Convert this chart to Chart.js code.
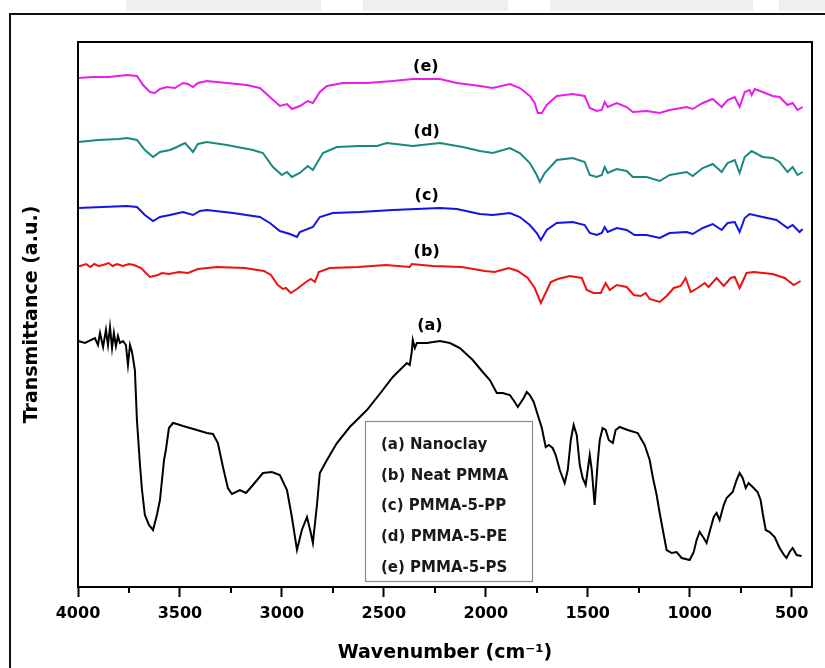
<!DOCTYPE html>
<html>
<head>
<meta charset="utf-8">
<script src="https://cdn.jsdelivr.net/npm/chart.js@4.4.1/dist/chart.umd.min.js"></script>
<style>
  html, body { margin: 0; padding: 0; background: #fff; }
  #wrap { width: 825px; height: 668px; position: relative; }
</style>
</head>
<body>
<div id="wrap"><canvas id="c" width="825" height="668"></canvas></div>
<script>
// ---- Data (wavenumber cm^-1, transmittance a.u. with stacking offsets) ----
const seriesA = [[4000,246],[3966,244],[3917,249],[3902,242],[3892,254],[3877,240],[3863,257],[3853,242],[3843,260],[3833,239],[3824,254],[3814,241],[3804,251],[3794,244],[3779,246],[3765,242],[3755,222],[3745,242],[3735,235],[3721,217],[3711,167],[3696,122],[3686,97],[3672,72],[3652,62],[3632,57],[3613,72],[3598,87],[3578,127],[3569,137],[3554,159],[3534,164],[3515,163],[3485,161],[3451,159],[3417,157],[3368,154],[3338,153],[3314,144],[3289,120],[3265,99],[3245,93],[3225,95],[3206,97],[3176,94],[3142,102],[3093,114],[3049,115],[3010,112],[2975,97],[2951,70],[2926,37],[2902,57],[2877,70],[2858,54],[2848,44],[2828,82],[2814,114],[2779,127],[2730,144],[2667,160],[2583,177],[2505,197],[2456,210],[2387,224],[2373,222],[2363,235],[2358,247],[2348,239],[2338,244],[2289,244],[2225,246],[2176,244],[2127,239],[2064,227],[2015,215],[1980,207],[1946,194],[1917,194],[1882,192],[1858,185],[1843,180],[1814,189],[1799,195],[1784,192],[1765,185],[1745,172],[1725,159],[1706,140],[1691,142],[1672,139],[1657,132],[1637,117],[1613,104],[1598,117],[1583,147],[1569,162],[1554,152],[1539,122],[1525,109],[1510,102],[1490,132],[1480,117],[1466,82],[1451,125],[1441,147],[1427,159],[1412,157],[1397,147],[1377,144],[1363,157],[1343,160],[1304,157],[1255,154],[1221,142],[1196,127],[1181,110],[1162,92],[1147,74],[1127,52],[1113,37],[1088,34],[1064,35],[1039,29],[1000,27],[980,35],[966,47],[951,55],[931,49],[917,44],[897,59],[882,70],[868,74],[853,67],[833,82],[819,89],[789,95],[770,107],[755,114],[740,109],[725,99],[711,104],[691,100],[667,95],[652,87],[642,74],[627,57],[608,55],[583,50],[559,39],[534,31],[525,29],[510,35],[495,39],[475,32],[451,31]];

const seriesB = [[4000,321],[3990,321],[3960,323],[3940,320],[3920,323],[3900,321],[3877,322],[3850,324],[3830,321],[3809,323],[3780,321],[3750,323],[3725,322],[3691,319],[3647,310],[3608,312],[3588,314],[3554,313],[3505,315],[3461,314],[3412,318],[3319,320],[3181,319],[3088,316],[3054,312],[3020,302],[2995,298],[2980,299],[2956,294],[2926,298],[2882,305],[2858,308],[2838,305],[2819,315],[2765,319],[2627,320],[2490,322],[2373,320],[2363,323],[2260,321],[2118,320],[2005,316],[1956,315],[1887,319],[1843,316],[1794,309],[1760,299],[1730,284],[1716,290],[1681,305],[1647,308],[1588,311],[1529,309],[1505,297],[1471,294],[1436,294],[1412,304],[1392,297],[1358,302],[1309,300],[1274,292],[1240,291],[1216,294],[1196,288],[1147,285],[1113,291],[1078,299],[1044,301],[1020,309],[995,295],[961,299],[926,304],[907,300],[868,309],[833,301],[799,309],[779,310],[755,299],[721,314],[686,315],[593,313],[534,309],[490,302],[456,306]];

const seriesC = [[4000,379],[3880,380],[3760,381],[3711,380],[3672,372],[3632,366],[3598,370],[3549,372],[3485,375],[3436,372],[3402,376],[3368,377],[3240,374],[3108,370],[3059,364],[3010,356],[2961,353],[2926,350],[2912,355],[2848,360],[2814,370],[2750,374],[2618,375],[2456,377],[2225,379],[2142,378],[2029,373],[1966,372],[1882,374],[1833,370],[1784,362],[1750,354],[1730,347],[1701,357],[1652,364],[1574,365],[1515,362],[1490,354],[1456,352],[1431,354],[1417,360],[1402,355],[1358,359],[1309,357],[1270,352],[1211,352],[1147,349],[1098,354],[1015,355],[985,353],[936,359],[887,363],[843,357],[814,364],[779,365],[755,355],[730,369],[706,373],[642,370],[574,367],[520,359],[495,362],[461,355],[446,358]];

const seriesD = [[4000,445],[3900,447],[3800,448],[3760,449],[3711,447],[3672,437],[3632,430],[3598,435],[3549,437],[3515,440],[3475,444],[3436,435],[3412,443],[3368,445],[3270,442],[3142,437],[3093,434],[3044,420],[3000,412],[2975,415],[2951,410],[2912,414],[2873,421],[2848,417],[2799,434],[2730,440],[2618,441],[2534,441],[2485,444],[2358,441],[2225,444],[2113,440],[2029,436],[1966,434],[1882,439],[1833,434],[1784,424],[1750,412],[1735,405],[1711,414],[1652,427],[1574,429],[1515,425],[1490,412],[1456,410],[1431,412],[1417,420],[1402,414],[1358,418],[1309,416],[1279,410],[1211,410],[1147,406],[1098,412],[1015,415],[985,411],[936,419],[887,423],[843,415],[814,424],[779,427],[755,414],[730,430],[696,436],[642,430],[593,429],[559,425],[520,415],[495,420],[471,412],[446,415]];

const seriesE = [[4000,509],[3926,510],[3850,510],[3760,512],[3711,511],[3681,502],[3647,495],[3623,494],[3598,498],[3564,500],[3525,499],[3485,504],[3461,503],[3436,500],[3412,504],[3368,506],[3270,504],[3172,502],[3108,499],[3059,490],[3010,481],[2975,483],[2951,478],[2912,481],[2873,486],[2848,484],[2814,495],[2779,501],[2701,504],[2583,504],[2456,506],[2358,508],[2225,508],[2142,504],[2029,501],[1966,499],[1882,503],[1833,499],[1784,491],[1760,484],[1745,474],[1725,474],[1701,482],[1652,491],[1574,493],[1515,491],[1490,479],[1456,476],[1431,477],[1417,485],[1402,480],[1358,484],[1309,480],[1279,475],[1211,476],[1147,474],[1098,477],[1015,480],[985,478],[936,484],[887,488],[843,480],[814,487],[779,490],[755,480],[730,495],[706,497],[696,492],[681,498],[642,495],[593,491],[559,490],[520,482],[495,484],[471,477],[446,480]];

const seriesNames = ['(a) Nanoclay', '(b) Neat PMMA', '(c) PMMA-5-PP', '(d) PMMA-5-PE', '(e) PMMA-5-PS'];
const curveTags = ['(a)', '(b)', '(c)', '(d)', '(e)'];
const tagWn = [2274, 2290, 2290, 2290, 2294];
const tagT = [261, 335, 391, 455, 520];
const majorTicks = [4000, 3500, 3000, 2500, 2000, 1500, 1000, 500];
const minorTicks = [3750, 3250, 2750, 2250, 1750, 1250, 750];
const colors = ['#000000', '#ee1111', '#1414e6', '#17897e', '#e81ee8'];

// ---- Chart ----
const toXY = s => s.map(p => ({x: p[0], y: p[1]}));
const allSeries = [seriesA, seriesB, seriesC, seriesD, seriesE];

const overlay = {
  id: 'overlay',
  beforeDraw(chart) {
    const ctx = chart.ctx;
    ctx.save();
    ctx.fillStyle = '#fff';
    ctx.fillRect(0, 0, chart.width, chart.height);
    // faint watermark bands at top
    ctx.fillStyle = '#efefef';
    [[126, 195], [363, 145], [550, 203], [779, 46]].forEach(r => ctx.fillRect(r[0], 0, r[1], 11));
    // outer frame
    ctx.strokeStyle = '#111';
    ctx.lineWidth = 2;
    ctx.beginPath();
    ctx.moveTo(10, 668); ctx.lineTo(10, 14); ctx.lineTo(825, 14);
    ctx.stroke();
    ctx.restore();
  },
  afterDraw(chart) {
    const {ctx, chartArea: {left, top, right, bottom}, scales: {x, y}} = chart;
    ctx.save();
    ctx.strokeStyle = '#000';
    ctx.lineWidth = 2;
    ctx.strokeRect(left, top, right - left, bottom - top);
    // minor ticks
    ctx.beginPath();
    minorTicks.forEach(v => {
      const px = Math.round(x.getPixelForValue(v));
      ctx.moveTo(px, bottom); ctx.lineTo(px, bottom + 6);
    });
    ctx.stroke();
    // curve tags
    ctx.fillStyle = '#000';
    ctx.font = 'bold 16px "DejaVu Sans"';
    ctx.textAlign = 'center';
    ctx.textBaseline = 'middle';
    curveTags.forEach((t, i) => {
      ctx.fillText(t, x.getPixelForValue(tagWn[i]), y.getPixelForValue(tagT[i]));
    });
    // legend box
    ctx.strokeStyle = '#8a8a8a';
    ctx.lineWidth = 1.2;
    ctx.strokeRect(365.5, 421.5, 167, 160);
    ctx.fillStyle = '#1a1a1a';
    ctx.font = 'bold 15px "DejaVu Sans"';
    ctx.textAlign = 'left';
    seriesNames.forEach((n, i) => {
      ctx.fillText(n, 381, 445 + i * 30.8);
    });
    ctx.restore();
  }
};

new Chart(document.getElementById('c'), {
  type: 'line',
  data: {
    datasets: allSeries.map((s, i) => ({
      label: seriesNames[i],
      data: toXY(s),
      borderColor: colors[i],
      borderWidth: 2,
      pointRadius: 0,
      tension: 0,
      fill: false
    }))
  },
  options: {
    responsive: false,
    animation: false,
    devicePixelRatio: 1,
    layout: { padding: { top: 42, right: 13, left: 0, bottom: 0 } },
    plugins: { legend: { display: false }, tooltip: { enabled: false } },
    scales: {
      x: {
        type: 'linear',
        min: 400,
        max: 4000,
        reverse: true,
        afterBuildTicks: s => { s.ticks = majorTicks.map(v => ({ value: v })); },
        afterFit: s => { s.height = 81; },
        ticks: {
          autoSkip: false, maxRotation: 0, padding: 7, color: '#000',
          font: { family: 'DejaVu Sans', weight: 'bold', size: 16 },
          callback: v => String(v)
        },
        grid: { drawOnChartArea: false, tickLength: 10, tickWidth: 2, tickColor: '#000' },
        border: { display: false },
        title: {
          display: true, text: 'Wavenumber (cm\u207B\u00B9)', color: '#000',
          font: { family: 'DejaVu Sans', weight: 'bold', size: 19 },
          padding: { top: 0, bottom: 4 }
        }
      },
      y: {
        type: 'linear',
        min: 0,
        max: 545,
        afterFit: s => { s.width = 78; },
        ticks: { display: false },
        grid: { display: false, drawTicks: false },
        border: { display: false },
        title: {
          display: true, text: 'Transmittance (a.u.)', color: '#000',
          font: { family: 'DejaVu Sans', weight: 'bold', size: 19 },
          padding: { top: 21, bottom: 0 }
        }
      }
    }
  },
  plugins: [overlay]
});
</script>
</body>
</html>
